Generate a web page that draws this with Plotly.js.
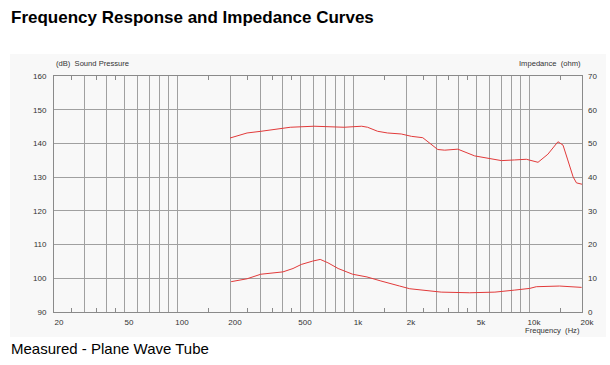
<!DOCTYPE html>
<html>
<head>
<meta charset="utf-8">
<script src="https://cdn.plot.ly/plotly-3.0.1.min.js"></script>
<style>
html,body{margin:0;padding:0;background:#fff;}
#chart{width:610px;height:365px;}
</style>
</head>
<body>
<div id="chart"></div>
<script>
// Sound pressure curve (left axis, dB)
const freqSPL = [200, 250, 300, 360, 440, 600, 890, 1120, 1210, 1380, 1570, 1880, 2150, 2490, 3030, 3320, 3940, 4910, 5820, 6970, 8290, 9660, 11250, 12800, 14600, 15600, 16600, 17800, 18600, 20000];
const splDb = [141.6, 143.1, 143.6, 144.1, 144.8, 145.1, 144.8, 145.1, 144.8, 143.6, 143.1, 142.8, 142.1, 141.7, 138.2, 138.0, 138.3, 136.3, 135.6, 134.9, 135.1, 135.3, 134.4, 136.8, 140.5, 139.5, 135.1, 130.1, 128.3, 127.9];

// Impedance curve (right axis, ohm)
const freqImp = [203, 250, 299, 344, 400, 456, 508, 590, 651, 720, 823, 995, 1200, 1440, 1640, 1840, 2100, 2500, 3170, 4600, 6400, 8300, 10100, 11000, 14900, 19900];
const impOhm = [9.0, 9.85, 11.2, 11.6, 11.9, 12.9, 14.1, 15.1, 15.6, 14.6, 12.9, 11.2, 10.4, 9.2, 8.3, 7.7, 6.9, 6.5, 5.9, 5.7, 5.9, 6.5, 7.0, 7.5, 7.7, 7.3];

// Axis ticks
const xTickVals = [20, 50, 100, 200, 500, 1000, 2000, 5000, 10000, 20000];
const xTickText = ['20', '50', '100', '200', '500', '1k', '2k', '5k', '10k', '20k'];
const xGridVals = [30, 40, 60, 70, 80, 90, 300, 400, 600, 700, 800, 900, 3000, 4000, 6000, 7000, 8000, 9000];
const xHalfTicks = [25, 35, 45, 150, 250, 350, 450, 1500, 2500, 3500, 4500, 15000];
const yLeftTicks = [90, 100, 110, 120, 130, 140, 150, 160];
const yRightTicks = [0, 10, 20, 30, 40, 50, 60, 70];

const lineColor = '#e23a3a';
const gridColor = '#a0a0a0';
const tickFont = {family: 'Liberation Sans, Arial, sans-serif', size: 8, color: '#333'};
const titleFont = {family: 'Liberation Sans, Arial, sans-serif', size: 7.6, color: '#333'};

const traces = [
  {x: freqSPL, y: splDb, type: 'scatter', mode: 'lines', line: {color: lineColor, width: 1}, xaxis: 'x', yaxis: 'y', hoverinfo: 'skip'},
  {x: freqImp, y: impOhm, type: 'scatter', mode: 'lines', line: {color: lineColor, width: 1}, xaxis: 'x', yaxis: 'y2', hoverinfo: 'skip'},
  {x: [100], y: [100], type: 'scatter', mode: 'markers', marker: {opacity: 0}, xaxis: 'x3', yaxis: 'y', hoverinfo: 'skip', showlegend: false}
];

const L = 54, R = 28, T = 76, B = 53;
const W = 610, H = 365;
const pw = W - L - R, ph = H - T - B;
const px = v => (v - L) / pw;
const py = v => (H - B - v) / ph;

const layout = {
  width: W, height: H,
  margin: {l: L, r: R, t: T, b: B, pad: 0},
  paper_bgcolor: '#ffffff',
  plot_bgcolor: 'rgba(0,0,0,0)',
  showlegend: false,
  xaxis: {
    type: 'log', range: [Math.log10(20), Math.log10(20000)],
    tickmode: 'array', tickvals: xTickVals, ticktext: xTickText,
    showgrid: true, gridcolor: gridColor, gridwidth: 1,
    minor: {tickmode: 'array', tickvals: xGridVals, showgrid: true, gridcolor: gridColor, gridwidth: 1, ticks: ''},
    showline: true, linecolor: '#8a8a8a', linewidth: 1, mirror: true,
    ticks: '', tickfont: tickFont, ticklabelshift: 5, ticklabelstandoff: 2,
    zeroline: false, fixedrange: true
  },
  xaxis3: {
    type: 'log', range: [Math.log10(20), Math.log10(20000)],
    overlaying: 'x', anchor: 'y',
    tickmode: 'array', tickvals: xHalfTicks, showticklabels: false,
    ticks: 'inside', ticklen: 4, tickcolor: '#8a8a8a', tickwidth: 1,
    showgrid: false, showline: false, mirror: 'ticks', zeroline: false
  },
  yaxis: {
    range: [90, 160], tickmode: 'array', tickvals: yLeftTicks,
    showgrid: true, gridcolor: gridColor, gridwidth: 1,
    showline: true, linecolor: '#8a8a8a', linewidth: 1, mirror: true,
    ticks: '', tickfont: tickFont, ticklabelstandoff: 5, zeroline: false, fixedrange: true
  },
  yaxis2: {
    range: [0, 70], tickmode: 'array', tickvals: yRightTicks,
    overlaying: 'y', side: 'right', anchor: 'x',
    showgrid: false, showline: false, ticks: '', tickfont: tickFont, ticklabelstandoff: 5,
    zeroline: false, fixedrange: true
  },
  shapes: [
    {type: 'rect', xref: 'paper', yref: 'paper', x0: px(10), x1: px(606), y0: py(337), y1: py(54),
     fillcolor: '#f8f8f8', line: {width: 0}, layer: 'below'}
  ],
  annotations: [
    {text: '<b>Frequency Response and Impedance Curves</b>', xref: 'paper', yref: 'paper', x: px(9), y: py(17),
     xanchor: 'left', yanchor: 'middle', showarrow: false,
     font: {family: 'Liberation Sans, Arial, sans-serif', size: 17, color: '#000'}},
    {text: 'Measured - Plane Wave Tube', xref: 'paper', yref: 'paper', x: px(9), y: py(348),
     xanchor: 'left', yanchor: 'middle', showarrow: false,
     font: {family: 'Liberation Sans, Arial, sans-serif', size: 15, color: '#000'}},
    {text: '(dB)  Sound Pressure', xref: 'paper', yref: 'paper', x: px(54), y: py(64),
     xanchor: 'left', yanchor: 'middle', showarrow: false, font: titleFont},
    {text: 'Impedance  (ohm)', xref: 'paper', yref: 'paper', x: px(583), y: py(64),
     xanchor: 'right', yanchor: 'middle', showarrow: false, font: titleFont},
    {text: 'Frequency  (Hz)', xref: 'paper', yref: 'paper', x: px(582), y: py(330),
     xanchor: 'right', yanchor: 'middle', showarrow: false, font: titleFont}
  ]
};

Plotly.newPlot('chart', traces, layout, {displayModeBar: false, staticPlot: true});
</script>
</body>
</html>
